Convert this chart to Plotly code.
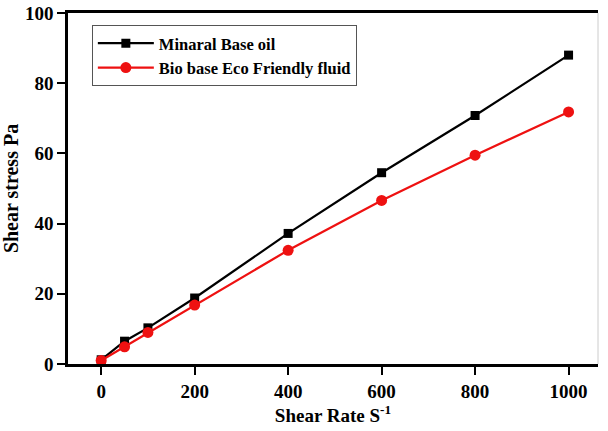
import plotly.graph_objects as go

shear_rate = [0, 50, 100, 200, 400, 600, 800, 1000]
mineral_oil = [1.2, 6.5, 10.3, 18.8, 37.2, 54.5, 70.8, 88.0]
bio_fluid = [1.0, 4.9, 9.0, 16.8, 32.4, 46.6, 59.5, 71.8]
x_ticks = [0, 200, 400, 600, 800, 1000]
y_ticks = [0, 20, 40, 60, 80, 100]

font = "Liberation Serif"

fig = go.Figure()
fig.add_trace(go.Scatter(
    x=shear_rate, y=mineral_oil, mode="lines+markers", name="<b>Minaral Base oil</b>",
    line=dict(color="black", width=2.2),
    marker=dict(symbol="square", size=9, color="black"),
))
fig.add_trace(go.Scatter(
    x=shear_rate, y=bio_fluid, mode="lines+markers", name="<b>Bio base Eco Friendly fluid</b>",
    line=dict(color="#ee1111", width=2.2),
    marker=dict(symbol="circle", size=11, color="#ee1111"),
))

fig.update_layout(
    width=608, height=431,
    margin=dict(l=68, r=10, t=13, b=67),
    paper_bgcolor="white", plot_bgcolor="white",
    font=dict(family=font, color="black", size=17),
    showlegend=True,
    legend=dict(
        x=0.045, y=0.966, xanchor="left", yanchor="top",
        bordercolor="#555555", borderwidth=1, bgcolor="white",
        font=dict(family=font, size=16.5, color="black"),
        tracegroupgap=0, itemwidth=56,
    ),
    xaxis=dict(
        range=[-71, 1063], tickvals=x_ticks, ticktext=[f"<b>{v}</b>" for v in x_ticks],
        showgrid=False, zeroline=False, automargin=False,
        showline=True, linecolor="black", linewidth=2.5, mirror=True,
        ticks="outside", ticklen=8, tickwidth=2, tickcolor="black",
        tickfont=dict(family=font, size=19),
        title=dict(text="<b>Shear Rate S<sup>-1</sup></b>", font=dict(family=font, size=19), standoff=8),
    ),
    yaxis=dict(
        range=[0, 100], tickvals=y_ticks, ticktext=[f"<b>{v}</b>" for v in y_ticks],
        showgrid=False, zeroline=False, automargin=False,
        showline=True, linecolor="black", linewidth=2.5,
        ticks="outside", ticklen=8, tickwidth=2, tickcolor="black",
        tickfont=dict(family=font, size=19),
        title=dict(text="<b>Shear stress Pa</b>", font=dict(family=font, size=20), standoff=6),
    ),
    shapes=[dict(type="line", xref="paper", yref="paper", x0=1, x1=1, y0=0, y1=1,
                 line=dict(color="#cccccc", width=1))],
)

fig.write_html("out.html")
